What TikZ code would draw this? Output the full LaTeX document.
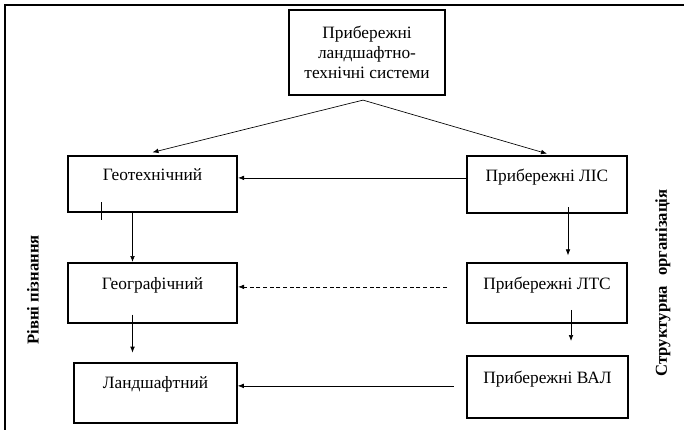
\documentclass[tikz,border=0pt]{standalone}
\usepackage{fontspec}
\setmainfont{Liberation Serif}
\usetikzlibrary{arrows.meta,calc}

\begin{document}
\begin{tikzpicture}[
  x=0.75pt, y=-0.75pt,
  levelbox/.style={
    draw=black,
    line width=1.4pt,
    inner xsep=2pt,
    inner ysep=0pt,
    anchor=north,
    align=center,
    font=\fontsize{13}{15}\selectfont
  },
  line/.style={-{Latex[length=4.5pt,width=3.5pt]}, line width=0.5pt, draw=black},
  dashedline/.style={-{Latex[length=4.5pt,width=3.5pt]}, line width=0.5pt, draw=black, dash pattern=on 3pt off 2pt},
  sidelabel/.style={rotate=90, font=\fontsize{12.5}{15}\selectfont\bfseries}
]
\useasboundingbox (0,0) rectangle (684,430);

% Frame
\draw[line width=1.5pt] (684,5) -- (5,5) -- (5,430);

% Top system box
\node[levelbox, anchor=center, minimum width=117pt, minimum height=64pt] (sys) at (367,52.5)
  {Прибережні\\ландшафтно-\\технічні системи};

% Levels of knowledge (left column)
\node[levelbox, minimum width=127pt, text height=18.75pt, text depth=23.25pt] (gtech) at (152.5,155) {Геотехнічний};
\node[levelbox, minimum width=127pt, text height=20.25pt, text depth=24.75pt] (ggeo) at (152.5,262) {Географічний};
\node[levelbox, minimum width=122pt, text height=19.5pt, text depth=25.5pt] (land) at (155.5,362) {Ландшафтний};

% Structural organisation (right column)
\node[levelbox, minimum width=120pt, text height=19.5pt, text depth=23.25pt] (lis) at (547,155) {Прибережні ЛІС};
\node[levelbox, minimum width=120pt, text height=20.25pt, text depth=24.75pt] (lts) at (547,262) {Прибережні ЛТС};
\node[levelbox, minimum width=121pt, text height=21pt, text depth=25.5pt] (val) at (547.5,355) {Прибережні ВАЛ};

% Side labels
\node[sidelabel] (lvl) at (33,290) {Рівні пізнання};
\node[sidelabel] (org) at (663,283) {Структурна\hspace{0.35em} організація};

% Split from the top box
\coordinate (apex) at ($(sys.south)+(-4,4)$);
\draw[line] (apex) -- ([yshift=2pt]gtech.north);
\draw[line] (apex) -- ([yshift=1pt]lis.north);

% Horizontal links
\draw[line] (lis.west |- gtech.mid east) -- (gtech.mid east);
\draw[dashedline] ($(lts.west |- ggeo.mid east)+(-19,0)$) -- (ggeo.mid east);
\draw[line] ($(val.west |- land.mid east)+(-12,0)$) -- (land.mid east);

% Vertical links
\draw[line] ([xshift=-15pt]gtech.south) -- ([xshift=-15pt]gtech.south |- ggeo.north);
\draw[line] ([xshift=-15pt,yshift=7pt]ggeo.south) -- ([xshift=-15pt,yshift=7pt]ggeo.south |- land.north);
\draw[line] ([xshift=15.75pt,yshift=5pt]lis.south) -- ([xshift=15.75pt,yshift=5pt]lis.south |- lts.north);
\draw[line] ([xshift=18pt,yshift=10.5pt]lts.south) -- ([xshift=18pt,yshift=10.5pt]lts.south |- val.north);

% Small mark on the first box
\draw[line width=0.6pt] (101,202) -- (101,220);

\end{tikzpicture}
\end{document}
